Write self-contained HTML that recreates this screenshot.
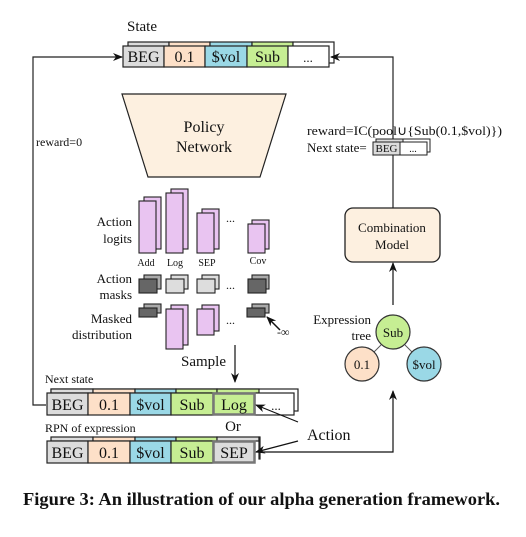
<!DOCTYPE html>
<html><head><meta charset="utf-8"><style>
html,body{margin:0;padding:0;background:#fff;}
svg{display:block;}
text{font-family:"Liberation Serif",serif;fill:#111;}
</style></head><body>
<svg width="526" height="537" viewBox="0 0 526 537" xmlns="http://www.w3.org/2000/svg">
<defs>
<marker id="ah" markerWidth="10" markerHeight="8" refX="9" refY="4" orient="auto" markerUnits="userSpaceOnUse">
<path d="M0,0 L10,4 L0,8 L3,4 z" fill="#111"/></marker>
</defs>
<g stroke="#222" stroke-width="1.2">
<text x="127" y="31" font-size="15" stroke="none">State</text>
<rect x="128" y="42" width="41" height="21" fill="#dcdcdc"/>
<rect x="169" y="42" width="41" height="21" fill="#fde0c8"/>
<rect x="210" y="42" width="42" height="21" fill="#9ad8e6"/>
<rect x="252" y="42" width="41" height="21" fill="#c6ee93"/>
<rect x="293" y="42" width="41" height="21" fill="#fff"/>
<rect x="123" y="46" width="41" height="21" fill="#dcdcdc"/>
<rect x="164" y="46" width="41" height="21" fill="#fde0c8"/>
<rect x="205" y="46" width="42" height="21" fill="#9ad8e6"/>
<rect x="247" y="46" width="41" height="21" fill="#c6ee93"/>
<rect x="288" y="46" width="41" height="21" fill="#fff"/>
</g>
<g font-size="16" text-anchor="middle">
<text x="143.5" y="62">BEG</text><text x="184.5" y="62">0.1</text><text x="226" y="62">$vol</text><text x="267.5" y="62">Sub</text><text x="308" y="62" font-size="13">...</text>
</g>
<g stroke="#222" stroke-width="1.2" fill="none">
<polyline points="46,405 33,405 33,57 122,57" marker-end="url(#ah)"/>
<polyline points="393,208 393,57 331,57" marker-end="url(#ah)"/>
</g>
<text x="36" y="146" font-size="12">reward=0</text>
<polygon points="122,94 286,94 260,177 148,177" fill="#fdf0e0" stroke="#222" stroke-width="1.2"/>
<text x="204" y="132" font-size="16" text-anchor="middle">Policy</text>
<text x="204" y="152" font-size="16" text-anchor="middle">Network</text>
<text x="307" y="135" font-size="13" textLength="195" lengthAdjust="spacingAndGlyphs">reward=IC(pool∪{Sub(0.1,$vol)})</text>
<text x="307" y="152" font-size="13">Next state=</text>
<g stroke="#222" stroke-width="1">
<rect x="376" y="139" width="27" height="13" fill="#dcdcdc"/><rect x="403" y="139" width="27" height="13" fill="#fff"/>
<rect x="373" y="142" width="27" height="13" fill="#dcdcdc"/><rect x="400" y="142" width="27" height="13" fill="#fff"/>
</g>
<text x="386.5" y="152" font-size="11" text-anchor="middle">BEG</text><text x="413" y="152" font-size="10" text-anchor="middle">...</text>
<rect x="345" y="208" width="95" height="54" rx="8" fill="#fdf0e0" stroke="#222" stroke-width="1.3"/>
<text x="392" y="232" font-size="13" text-anchor="middle">Combination</text>
<text x="392" y="249" font-size="13" text-anchor="middle">Model</text>
<g font-size="13" text-anchor="end"><text x="132" y="226">Action</text><text x="132" y="243">logits</text>
<text x="132" y="283">Action</text><text x="132" y="299">masks</text>
<text x="132" y="323">Masked</text><text x="132" y="339">distribution</text></g>
<g stroke="#222" stroke-width="1.1" fill="#e9c4f1">
<rect x="144" y="197" width="17" height="52"/><rect x="139" y="201" width="17" height="52"/>
<rect x="171" y="189" width="17" height="60"/><rect x="166" y="193" width="17" height="60"/>
<rect x="202" y="209" width="17" height="40"/><rect x="197" y="213" width="17" height="40"/>
<rect x="252" y="220" width="17" height="29"/><rect x="248" y="224" width="17" height="29"/>
<rect x="144" y="275" width="17" height="14" fill="#aaa"/><rect x="139" y="279" width="18" height="14" fill="#666"/>
<rect x="171" y="275" width="17" height="14" fill="#ddd"/><rect x="166" y="279" width="18" height="14" fill="#ddd"/>
<rect x="202" y="275" width="17" height="14" fill="#ddd"/><rect x="197" y="279" width="18" height="14" fill="#ddd"/>
<rect x="252" y="275" width="17" height="14" fill="#aaa"/><rect x="248" y="279" width="18" height="14" fill="#666"/>
<rect x="144" y="304" width="17" height="9" fill="#aaa"/><rect x="139" y="308" width="18" height="9" fill="#666"/>
<rect x="171" y="305" width="17" height="40"/><rect x="166" y="309" width="17" height="40"/>
<rect x="202" y="305" width="17" height="26"/><rect x="197" y="309" width="17" height="26"/>
<rect x="252" y="304" width="17" height="9" fill="#aaa"/><rect x="247" y="308" width="18" height="9" fill="#666"/>
</g>
<g font-size="10" text-anchor="middle"><text x="146" y="266">Add</text><text x="175" y="266">Log</text><text x="207" y="266">SEP</text><text x="258" y="264">Cov</text></g>
<g font-size="12"><text x="226" y="222">...</text><text x="226" y="289">...</text><text x="226" y="324">...</text></g>
<line x1="280" y1="330" x2="267" y2="317" stroke="#111" stroke-width="1.5" marker-end="url(#ah)"/>
<text x="277" y="336" font-size="12">-∞</text>
<text x="181" y="366" font-size="15">Sample</text>
<line x1="235" y1="345" x2="235" y2="382" stroke="#111" stroke-width="1.2" marker-end="url(#ah)"/>
<text x="45" y="383" font-size="12">Next state</text>
<g stroke="#222" stroke-width="1.2">
<rect x="51" y="389" width="247" height="22" fill="#fff"/>
<rect x="51" y="389" width="42" height="4" fill="#dcdcdc"/><rect x="93" y="389" width="42" height="4" fill="#fde0c8"/><rect x="135" y="389" width="41" height="4" fill="#9ad8e6"/><rect x="176" y="389" width="41" height="4" fill="#c6ee93"/><rect x="217" y="389" width="42" height="4" fill="#c6ee93"/>
<rect x="47" y="393" width="41" height="22" fill="#dcdcdc"/>
<rect x="88" y="393" width="42" height="22" fill="#fde0c8"/>
<rect x="130" y="393" width="41" height="22" fill="#9ad8e6"/>
<rect x="171" y="393" width="42" height="22" fill="#c6ee93"/>
<rect x="255" y="393" width="39" height="22" fill="#fff"/>
<rect x="213.5" y="393.5" width="41" height="21" fill="#c6ee93" stroke="#777" stroke-width="2.5"/>
</g>
<g font-size="16" text-anchor="middle">
<text x="67.5" y="410">BEG</text><text x="109" y="410">0.1</text><text x="150.5" y="410">$vol</text><text x="192" y="410">Sub</text><text x="234" y="410">Log</text><text x="276" y="410" font-size="13">...</text>
</g>
<text x="233" y="431" font-size="15" text-anchor="middle">Or</text>
<text x="45" y="432" font-size="12">RPN of expression</text>
<g stroke="#222" stroke-width="1.2">
<rect x="51" y="437" width="42" height="4" fill="#dcdcdc"/><rect x="93" y="437" width="42" height="4" fill="#fde0c8"/><rect x="135" y="437" width="41" height="4" fill="#9ad8e6"/><rect x="176" y="437" width="41" height="4" fill="#c6ee93"/><rect x="217" y="437" width="42" height="4" fill="#dcdcdc"/>
<rect x="259" y="437" width="1" height="22" fill="#dcdcdc"/>
<rect x="47" y="441" width="41" height="22" fill="#dcdcdc"/>
<rect x="88" y="441" width="42" height="22" fill="#fde0c8"/>
<rect x="130" y="441" width="41" height="22" fill="#9ad8e6"/>
<rect x="171" y="441" width="42" height="22" fill="#c6ee93"/>
<rect x="213.5" y="441.5" width="41" height="21" fill="#dcdcdc" stroke="#777" stroke-width="2.5"/>
</g>
<g font-size="16" text-anchor="middle">
<text x="67.5" y="458">BEG</text><text x="109" y="458">0.1</text><text x="150.5" y="458">$vol</text><text x="192" y="458">Sub</text><text x="234" y="458">SEP</text>
</g>
<text x="307" y="440" font-size="16">Action</text>
<line x1="298" y1="422" x2="256" y2="405" stroke="#111" stroke-width="1.2" marker-end="url(#ah)"/>
<line x1="298" y1="441" x2="256" y2="452" stroke="#111" stroke-width="1.2" marker-end="url(#ah)"/>
<polyline points="256,452 393,452 393,391" fill="none" stroke="#111" stroke-width="1.2" marker-end="url(#ah)"/>
<line x1="393" y1="305" x2="393" y2="263" stroke="#111" stroke-width="1.2" marker-end="url(#ah)"/>
<line x1="381" y1="345" x2="374" y2="352" stroke="#555"/><line x1="405" y1="345" x2="412" y2="352" stroke="#555"/>
<g stroke="#333" stroke-width="1.2">
<circle cx="393" cy="332" r="17" fill="#c6ee93"/>
<circle cx="362" cy="364" r="17" fill="#fde0c8"/>
<circle cx="424" cy="364" r="17" fill="#9ad8e6"/>
</g>
<g font-size="13" text-anchor="middle"><text x="393" y="337">Sub</text><text x="362" y="369">0.1</text><text x="424" y="369">$vol</text></g>
<g font-size="13" text-anchor="end"><text x="371" y="324">Expression</text><text x="371" y="340">tree</text></g>
<text x="23" y="505" font-size="18" font-weight="bold" textLength="477" lengthAdjust="spacingAndGlyphs">Figure 3: An illustration of our alpha generation framework.</text>
</svg>
</body></html>
